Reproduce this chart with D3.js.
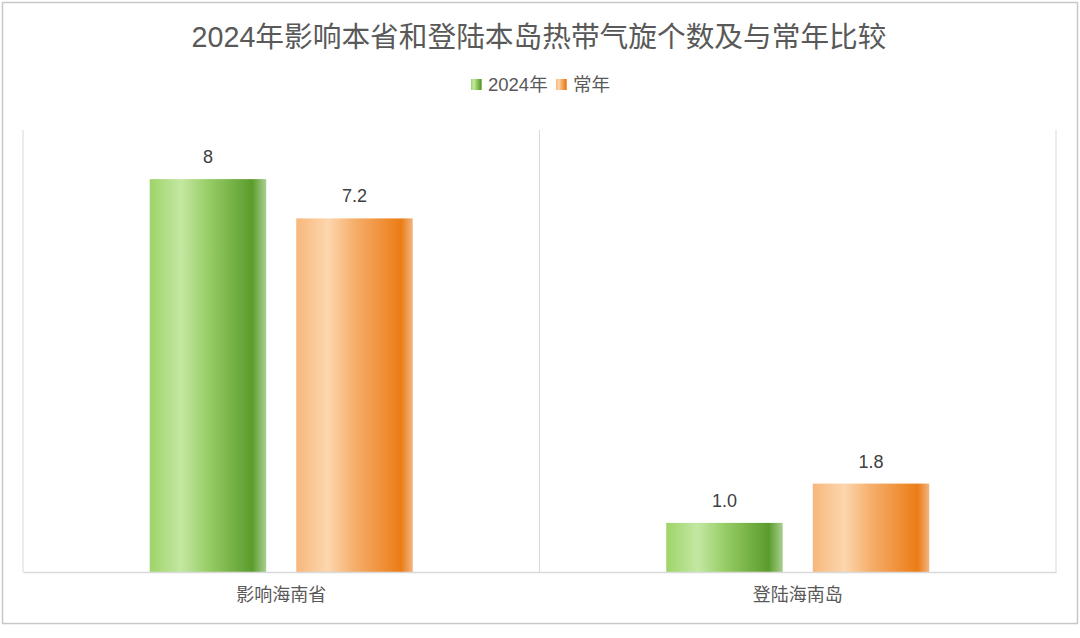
<!DOCTYPE html>
<html><head><meta charset="utf-8">
<script src="https://cdn.jsdelivr.net/npm/d3@7/dist/d3.min.js"></script>
<style>
html,body{margin:0;padding:0;background:#fff;}
svg{display:block;}
text{font-family:"Liberation Sans","Noto Sans CJK SC",sans-serif;}
</style></head>
<body>
<script>
const title = "2024年影响本省和登陆本岛热带气旋个数及与常年比较";
const categories = ["影响海南省", "登陆海南岛"];
const seriesNames = ["2024年", "常年"];
const values2024 = [8, 1.0];
const valuesNormal = [7.2, 1.8];
const labels2024 = ["8", "1.0"];
const labelsNormal = ["7.2", "1.8"];
const yDomain = [0, 9];

(function(){
const W = 1080, H = 638;
const svg = d3.select("body").append("svg").attr("width", W).attr("height", H);
const defs = svg.append("defs");

const gradStops = {
  "2024年": [[0,"#9ed469"],[0.27,"#c3e8a2"],[0.5,"#98cd67"],[0.88,"#5a9c2c"],[1,"#a9d092"]],
  "常年": [[0,"#f7b77b"],[0.27,"#fdd6ae"],[0.5,"#f6ae6b"],[0.9,"#eb7c16"],[1,"#f3b580"]]
};
seriesNames.forEach((s,i)=>{
  const g = defs.append("linearGradient").attr("id","g"+i).attr("x1","0").attr("x2","1").attr("y1","0").attr("y2","0");
  gradStops[s].forEach(st=>g.append("stop").attr("offset",st[0]).attr("stop-color",st[1]));
});

// outer border
svg.append("rect").attr("x",2.5).attr("y",2.5).attr("width",1075).attr("height",621)
  .attr("fill","#fff").attr("stroke","#c8c8c8").attr("stroke-width",1.5);

// title
svg.append("text").attr("x",539).attr("y",47).attr("text-anchor","middle")
  .attr("font-size",28.7).attr("fill","#595959").text(title);

// legend
const legend = svg.append("g");
const legendItems = [{name:seriesNames[0],x:471,tx:488},{name:seriesNames[1],x:556,tx:573}];
legendItems.forEach((d,i)=>{
  legend.append("rect").attr("x",d.x).attr("y",79).attr("width",11).attr("height",11).attr("fill","url(#g"+i+")");
  legend.append("text").attr("x",d.tx).attr("y",91).attr("font-size",18.5).attr("fill","#595959").text(d.name);
});

const pLeft = 23, pRight = 1056, pTop = 130, pBottom = 572;
const x0 = d3.scaleBand().domain(categories).range([pLeft, pRight]).paddingInner(0).paddingOuter(0);
const x1 = d3.scaleBand().domain(seriesNames).range([0, x0.bandwidth()]).paddingInner(0.205).paddingOuter(0.865);
const y = d3.scaleLinear().domain(yDomain).range([pBottom, pTop]);

// vertical category gridlines
const gridX = [pLeft].concat(categories.map(c=>x0(c)+x0.bandwidth()));
svg.append("g").selectAll("line").data(gridX).join("line")
  .attr("x1",d=>d).attr("x2",d=>d).attr("y1",pTop).attr("y2",pBottom)
  .attr("stroke","#d9d9d9").attr("stroke-width",1);

const data = [];
categories.forEach((c,ci)=>{
  data.push({cat:c, s:seriesNames[0], si:0, v:values2024[ci], lab:labels2024[ci]});
  data.push({cat:c, s:seriesNames[1], si:1, v:valuesNormal[ci], lab:labelsNormal[ci]});
});

svg.append("g").selectAll("rect").data(data).join("rect")
  .attr("x",d=>x0(d.cat)+x1(d.s)).attr("width",x1.bandwidth())
  .attr("y",d=>y(d.v)).attr("height",d=>y(0)-y(d.v))
  .attr("fill",d=>"url(#g"+d.si+")");

svg.append("g").selectAll("text").data(data).join("text")
  .attr("x",d=>x0(d.cat)+x1(d.s)+x1.bandwidth()/2).attr("y",d=>y(d.v)-16)
  .attr("text-anchor","middle").attr("font-size",18).attr("fill","#404040").text(d=>d.lab);

// x axis
const xAxis = svg.append("g").attr("transform",`translate(0,${pBottom})`)
  .call(d3.axisBottom(x0).tickSize(0).tickPadding(16));
xAxis.select(".domain").attr("stroke","#d9d9d9").attr("stroke-width",1.5);
xAxis.selectAll("text").attr("font-size",18).attr("fill","#595959")
  .attr("font-family",'"Liberation Sans","Noto Sans CJK SC",sans-serif');
})();
</script>
</body></html>
